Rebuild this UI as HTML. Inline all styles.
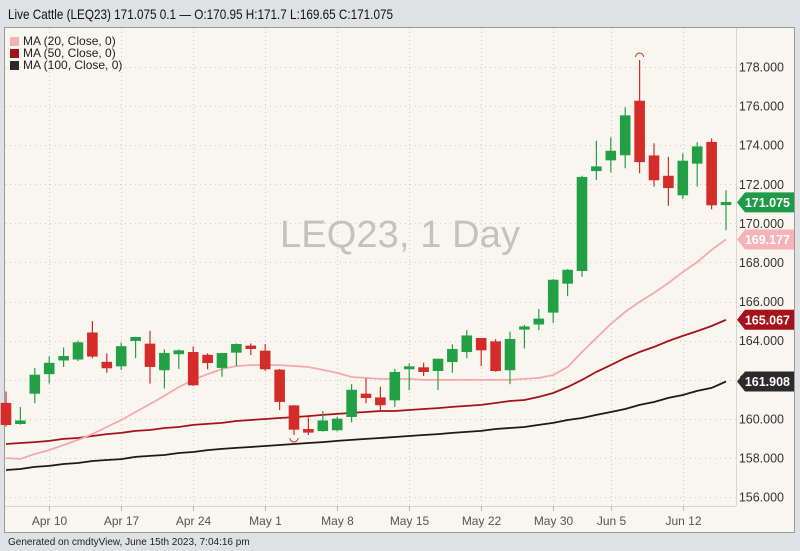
<!DOCTYPE html>
<html><head><meta charset="utf-8">
<style>
html,body{margin:0;padding:0;background:#dfe1e4;width:800px;height:551px;overflow:hidden;font-family:"Liberation Sans",sans-serif;}
svg{display:block}
</style></head>
<body>
<svg id="chart" width="800" height="551" viewBox="0 0 800 551">
  <rect x="0" y="0" width="800" height="551" fill="#dfe1e4"/>
  <text x="8" y="19" font-size="14" fill="#111" textLength="385" lengthAdjust="spacingAndGlyphs">Live Cattle (LEQ23) 171.075 0.1 — O:170.95 H:171.7 L:169.65 C:171.075</text>
  <rect x="4.5" y="27.5" width="790" height="505" fill="#f9f6f0" stroke="#9a9a9a"/>
  <line x1="736.5" y1="28" x2="736.5" y2="506" stroke="#d9d6d0"/>
  <line x1="5" y1="506.5" x2="736" y2="506.5" stroke="#d9d6d0"/>
  <g id="grid"></g>
  <text x="400" y="247" font-size="38" fill="#c5c1bb" text-anchor="middle" textLength="240">LEQ23, 1 Day</text>
  <g id="mas"></g>
  <g id="candles"></g>
  <g id="axes"></g>
  <g id="tags"></g>
  <g>
    <rect x="10" y="37" width="9" height="9" fill="#f4b2b6"/>
    <text x="23" y="45" font-size="12" fill="#222">MA (20, Close, 0)</text>
    <rect x="10" y="49" width="9" height="9" fill="#a5121b"/>
    <text x="23" y="57" font-size="12" fill="#222">MA (50, Close, 0)</text>
    <rect x="10" y="61" width="9" height="9" fill="#2b2b2b"/>
    <text x="23" y="69" font-size="12" fill="#222">MA (100, Close, 0)</text>
  </g>
  <text x="8" y="545" font-size="10" fill="#222">Generated on cmdtyView, June 15th 2023, 7:04:16 pm</text>
</svg>
<script>
const opens  = [160.8,159.75,161.3,162.3,163.0,163.05,164.4,162.9,162.7,164.0,163.83,162.5,163.32,163.4,163.26,162.62,163.4,163.73,163.47,162.5,160.67,159.46,159.39,159.43,160.11,161.27,161.08,160.96,162.55,162.62,162.46,162.92,163.43,164.12,163.95,162.5,164.58,164.84,165.45,166.93,167.58,172.69,173.24,173.5,176.26,173.46,172.42,171.45,173.07,174.15,170.95];
const highs  = [161.4,160.6,162.6,163.2,163.65,164.0,165.0,163.35,163.9,164.2,164.5,163.55,163.55,163.7,163.35,163.38,163.86,163.86,163.83,162.55,160.7,160.08,160.4,160.1,161.78,162.07,161.64,162.55,162.84,162.87,163.06,163.81,164.54,164.12,164.07,164.46,164.8,165.62,167.15,167.66,172.44,174.23,174.4,175.94,178.36,174.1,173.41,173.58,174.15,174.35,171.7];
const lows   = [159.6,159.7,160.8,161.8,162.65,162.95,163.1,162.35,162.5,163.1,161.8,161.55,162.55,161.68,162.53,162.15,162.7,163.26,162.45,160.45,159.17,159.17,159.34,159.36,159.82,160.79,160.45,160.62,161.47,162.19,161.47,162.36,163.1,162.7,162.41,161.77,163.6,164.54,164.9,166.28,167.27,172.22,172.61,172.82,172.56,171.88,170.9,171.25,171.88,170.72,169.65];
const closes = [159.7,159.9,162.24,162.85,163.2,163.9,163.2,162.6,163.7,164.17,162.67,163.35,163.49,161.73,162.87,163.35,163.81,163.59,162.55,160.88,159.46,159.31,159.9,159.99,161.47,161.08,160.71,162.38,162.67,162.41,163.06,163.56,164.25,163.52,162.46,164.07,164.71,165.11,167.1,167.61,172.36,172.9,173.7,175.51,173.15,172.22,171.82,173.19,173.92,170.94,171.075];
const ma20  = [157.99,157.95,158.20,158.40,158.66,158.92,159.22,159.58,159.94,160.35,160.76,161.17,161.63,161.99,162.29,162.55,162.70,162.75,162.75,162.75,162.70,162.65,162.50,162.35,162.14,162.09,162.04,162.04,162.04,161.99,161.99,161.99,161.99,161.99,161.99,161.99,162.04,162.09,162.24,162.65,163.42,164.14,164.85,165.47,165.98,166.44,166.95,167.51,168.02,168.64,169.177];
const ma50  = [158.71,158.76,158.81,158.87,158.97,159.02,159.12,159.22,159.28,159.38,159.43,159.53,159.58,159.69,159.74,159.79,159.89,159.94,159.99,160.04,160.09,160.14,160.20,160.25,160.30,160.35,160.40,160.40,160.45,160.50,160.55,160.61,160.66,160.71,160.81,160.91,160.96,161.12,161.32,161.63,161.99,162.40,162.75,163.11,163.42,163.68,163.98,164.24,164.49,164.75,165.067];
const ma100 = [157.38,157.43,157.54,157.59,157.69,157.74,157.84,157.89,157.94,158.05,158.10,158.15,158.25,158.30,158.40,158.46,158.51,158.56,158.61,158.66,158.71,158.76,158.81,158.87,158.92,158.97,159.02,159.07,159.12,159.17,159.22,159.28,159.33,159.38,159.48,159.53,159.58,159.69,159.79,159.94,160.04,160.20,160.35,160.50,160.71,160.86,161.07,161.22,161.43,161.58,161.908];
const priceTicks = [156,158,160,162,164,166,168,170,172,174,176,178];
const dateLabels = ["Apr 10","Apr 17","Apr 24","May 1","May 8","May 15","May 22","May 30","Jun 5","Jun 12"];
const dateIndex  = [3,8,13,18,23,28,33,38,42,47];
const lastClose = 171.075;

const NS="http://www.w3.org/2000/svg";
function yS(v){return 67+(178-v)*19.545;}
function xS(i){return 6+i*14.4;}
function mk(tag,attrs,parent){const e=document.createElementNS(NS,tag);for(const k in attrs)e.setAttribute(k,attrs[k]);parent.appendChild(e);return e;}

const grid=document.getElementById('grid'), axes=document.getElementById('axes');
priceTicks.forEach(v=>{
  const y=Math.round(yS(v))+0.5;
  const gl=mk('line',{x1:5,x2:736,y1:y,y2:y,stroke:'#cfcac2','stroke-dasharray':'1 4'},grid);
  
  
  const t=mk('text',{x:784,y:yS(v)+4.5,'font-size':12.5,fill:'#333','text-anchor':'end'},axes);
  t.textContent=v.toFixed(3);
  
  
});
dateLabels.forEach((d,k)=>{
  const x=Math.round(xS(dateIndex[k]))+0.5;
  const gl=mk('line',{x1:x,x2:x,y1:28,y2:506,stroke:'#cfcac2','stroke-dasharray':'1 3'},grid);
  
  
  const tk=mk('line',{x1:x,x2:x,y1:506,y2:511,stroke:'#bbb'},axes);
  
  
  const t=mk('text',{x:x,y:525,'font-size':12,fill:'#555','text-anchor':'middle'},axes);
  t.textContent=d;
  
  
});

const mas=document.getElementById('mas');
[[ma100,'#1a1a1a','ma100-line'],[ma50,'#a5121b','ma50-line'],[ma20,'#f4a9ae','ma20-line']].forEach(([arr,c,n])=>{
  const p=mk('polyline',{points:arr.map((v,i)=>xS(i)+','+yS(v).toFixed(1)).join(' '),fill:'none',stroke:c,'stroke-width':1.8},mas);
  
  
});

const cg=document.getElementById('candles');
opens.forEach((o,i)=>{
  const c=closes[i],up=c>=o,col=up?'#23a046':'#d42b2b',x=xS(i);
  const g=mk('g',{},cg);
  
  
  mk('line',{x1:x,x2:x,y1:yS(highs[i]),y2:yS(lows[i]),stroke:col,'stroke-width':1.2},g);
  const top=yS(Math.max(o,c)),h=Math.max(2,Math.abs(yS(o)-yS(c)));
  mk('rect',{x:x-5,y:top,width:10,height:h,fill:col,stroke:col,'stroke-width':0.6},g);
});
let hi=0,lo=0;highs.forEach((v,i)=>{if(v>highs[hi])hi=i;});lows.forEach((v,i)=>{if(v<lows[lo])lo=i;});
const mh=mk('path',{d:`M${xS(hi)-4},${yS(highs[hi])-3} a4,4 0 0 1 8,0`,fill:'none',stroke:'#d42b2b','stroke-width':1},cg);


const ml=mk('path',{d:`M${xS(lo)-4},${yS(lows[lo])+3} a4,4 0 0 0 8,0`,fill:'none',stroke:'#d42b2b','stroke-width':1},cg);



const tags=document.getElementById('tags');
[[lastClose,'#1f9a47','#fff','last-price-tag'],[ma20[50],'#f6b3b8','#fff','ma20-tag'],[ma50[50],'#a5121b','#fff','ma50-tag'],[ma100[50],'#2b2b2b','#fff','ma100-tag']].forEach(([v,bg,fg,n])=>{
  const y=yS(v);
  const g=mk('g',{},tags);
  
  
  mk('path',{d:`M737,${y} L745,${y-10} L794,${y-10} L794,${y+10} L745,${y+10} Z`,fill:bg},g);
  const t=mk('text',{x:790,y:y+4.5,'font-size':12.5,'font-weight':'bold',fill:fg,'text-anchor':'end'},g);
  t.textContent=v.toFixed(3);
});
</script>
</body></html>
